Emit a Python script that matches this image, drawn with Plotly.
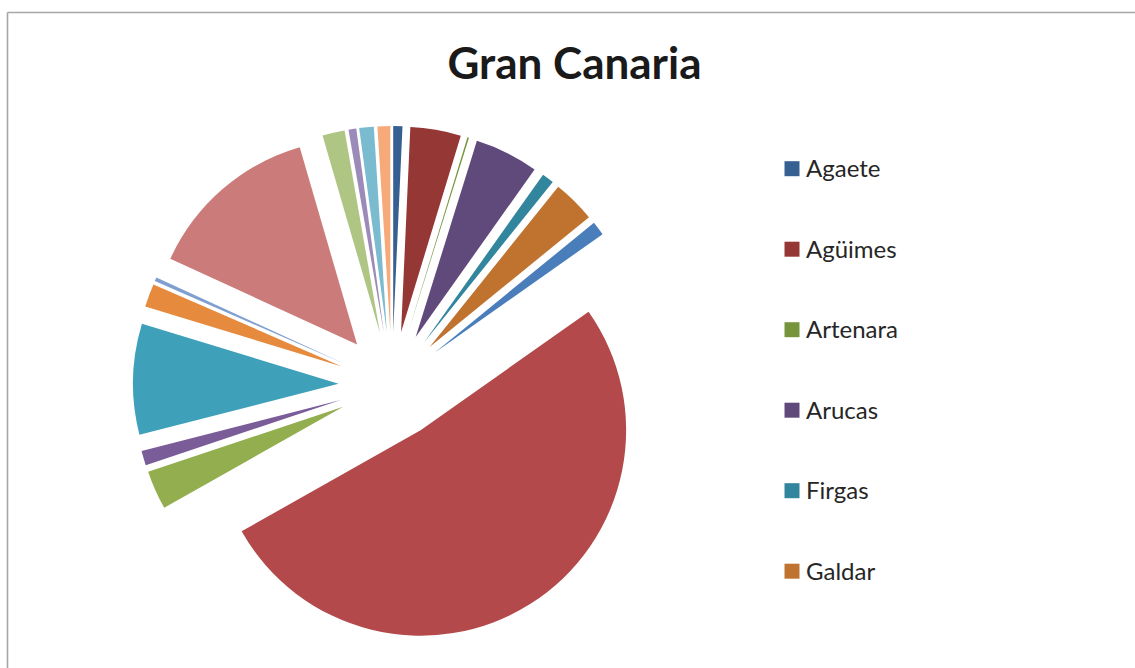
import plotly.graph_objects as go

# ---------------- data ----------------
labels = [
    "Agaete", "Agüimes", "Artenara", "Arucas", "Firgas", "Galdar",
    "Ingenio", "Las Palmas de G.C.", "Mogán", "Moya",
    "San Bartolomé de Tirajana", "San Nicolás de Tolentino",
    "Santa Brígida", "Santa Lucía", "Santa María de Guía",
    "Tejeda", "Telde", "Teror",
]
values = [
    0.72, 3.97, 0.12, 5.0, 0.94, 3.36,
    1.11, 51.56, 3.06, 1.14,
    8.69, 1.83,
    0.31, 13.64, 1.75,
    0.61, 1.14, 1.0,
]
colors = [
    "#376092", "#953735", "#77933C", "#604A7B", "#31859C", "#C0732F",
    "#4A7EBB", "#B3494A", "#92AE4E", "#7A5C99", "#3EA1B9", "#E68A3E",
    "#7F9FD0", "#CB7B7A", "#AEC584", "#9C8AB8", "#7BBBD0", "#F6A979",
]
legend_shown = labels[:6]
title_text = "Gran Canaria"

# ---------------- layout geometry ----------------
W, H = 1135, 668
L, T, PW, PH = 133, 126, 518, 518
R = W - L - PW
B = H - T - PH


def px_x(px):
    return (px - L) / PW


def px_y(py):
    return 1 - (py - T) / PH


fig = go.Figure()
fig.add_trace(go.Pie(
    labels=labels,
    values=values,
    sort=False,
    direction="clockwise",
    rotation=0,
    pull=[0.26] * len(values),
    marker=dict(colors=colors, line=dict(width=0)),
    textinfo="none",
    hoverinfo="label+value+percent",
    showlegend=False,
    domain=dict(x=[0, 1], y=[0, 1]),
))

shapes = []
annotations = []
# chart border (gray lines at top and left)
shapes.append(dict(type="line", xref="paper", yref="paper",
                   x0=px_x(7.5), y0=px_y(12.5), x1=px_x(1140), y1=px_y(12.5),
                   line=dict(color="#A6A6A6", width=1.3)))
shapes.append(dict(type="line", xref="paper", yref="paper",
                   x0=px_x(7.5), y0=px_y(12.5), x1=px_x(7.5), y1=px_y(680),
                   line=dict(color="#A6A6A6", width=1.6)))

# manual legend (only first six entries visible, as in the reference)
sq = 15
for i, name in enumerate(legend_shown):
    cy = 168.7 + i * 80.5
    cx = 792
    shapes.append(dict(type="rect", xref="paper", yref="paper",
                       x0=px_x(cx - sq / 2), x1=px_x(cx + sq / 2),
                       y0=px_y(cy + sq / 2), y1=px_y(cy - sq / 2),
                       fillcolor=colors[i], line=dict(width=0)))
    annotations.append(dict(xref="paper", yref="paper",
                            x=px_x(804), y=px_y(cy - 1),
                            xanchor="left", yanchor="middle",
                            text=name, showarrow=False,
                            font=dict(family="Lato", size=24, color="#262626")))

fig.update_layout(
    width=W, height=H,
    margin=dict(l=L, r=R, t=T, b=B),
    paper_bgcolor="white",
    plot_bgcolor="white",
    title=dict(text="<b>" + title_text + "</b>", x=574.5 / W, xanchor="center",
               xref="container",
               y=1 - 64 / H, yref="container", yanchor="middle",
               font=dict(family="Lato", size=44, color="#1A1A1A")),
    shapes=shapes,
    annotations=annotations,
    showlegend=False,
)

fig.write_html("out.html",
               config={"displayModeBar": False},
               post_script="document.body.style.margin='0px';"
                           "document.body.style.overflow='hidden';")
